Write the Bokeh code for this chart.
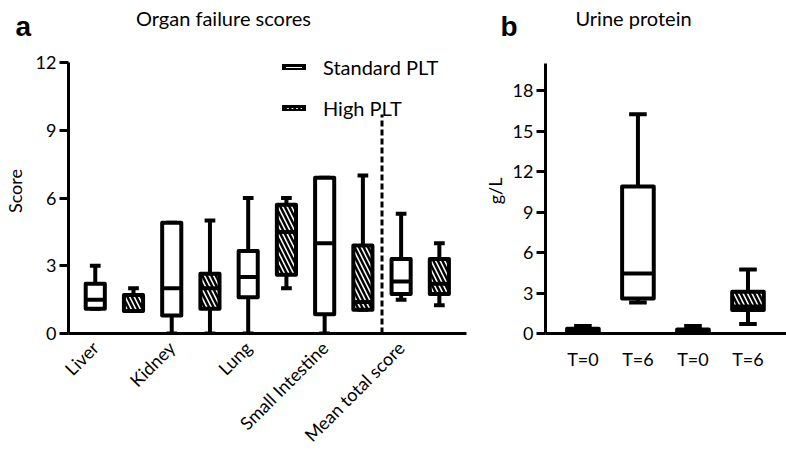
from math import pi
from bokeh.plotting import figure
from bokeh.models import Legend, LegendItem, FixedTicker, Range1d
from bokeh.core.properties import value
from bokeh.layouts import row, column
from bokeh.embed import file_html
from bokeh.resources import INLINE

# ---------------- data: panel a (organ failure scores) ----------------
organs = ["Liver", "Kidney", "Lung", "Small Intestine", "Mean total score"]
std_min = [1.1, 0.0, 0.0, 0.0, 1.5]
std_q1 = [1.1, 0.8, 1.6, 0.85, 1.75]
std_med = [1.5, 2.0, 2.5, 4.0, 2.3]
std_q3 = [2.2, 4.9, 3.65, 6.9, 3.3]
std_max = [3.0, 4.9, 6.0, 6.9, 5.3]

high_min = [1.0, 0.0, 2.0, 1.05, 1.25]
high_q1 = [1.0, 1.1, 2.6, 1.05, 1.75]
high_med = [1.0, 2.0, 4.5, 1.4, 2.2]
high_q3 = [1.7, 2.65, 5.7, 3.9, 3.3]
high_max = [2.0, 5.0, 6.0, 7.0, 4.0]
sep_top = 9.7
score_ticks = [0, 3, 6, 9, 12]
score_max = 12

# ---------------- data: panel b (urine protein) ----------------
times = ["T=0", "T=6", "T=0", "T=6"]
groups = ["Standard PLT", "Standard PLT", "High PLT", "High PLT"]
u_min = [0.05, 2.3, 0.0, 0.7]
u_q1 = [0.1, 2.6, 0.05, 1.75]
u_med = [0.2, 4.45, 0.15, 2.0]
u_q3 = [0.35, 10.9, 0.3, 3.1]
u_max = [0.55, 16.25, 0.55, 4.75]
urine_ticks = [0, 3, 6, 9, 12, 15, 18]
urine_max = 20

# ---------------- texts ----------------
panel_letters = ["a", "b"]
panel_titles = ["Organ failure scores", "Urine protein"]

FONT = "Lato"
LW = 4
HATCH = dict(hatch_pattern="\\", hatch_color="black", hatch_scale=9, hatch_weight=2.5)


def draw_boxes(p, xs, mins, q1, med, q3, mx, w, capw, hatch):
    p.segment(x0=xs, y0=q3, x1=xs, y1=mx, line_width=LW, line_color="black")
    p.segment(x0=xs, y0=q1, x1=xs, y1=mins, line_width=LW, line_color="black")
    p.segment(x0=[x - capw / 2 for x in xs], y0=mx, x1=[x + capw / 2 for x in xs], y1=mx,
              line_width=LW, line_color="black")
    p.segment(x0=[x - capw / 2 for x in xs], y0=mins, x1=[x + capw / 2 for x in xs], y1=mins,
              line_width=LW, line_color="black")
    kw = dict(HATCH) if hatch else {}
    r = p.vbar(x=xs, bottom=q1, top=q3, width=w, fill_color="white", line_color="black",
               line_width=LW, line_join="round", **kw)
    p.segment(x0=[x - w / 2 for x in xs], y0=med, x1=[x + w / 2 for x in xs], y1=med,
              line_width=LW, line_color="black")
    return r


def style(p, ticks, top, label, label_standoff):
    p.grid.visible = False
    p.outline_line_color = None
    p.background_fill_color = "white"
    p.border_fill_color = "white"
    for ax in (p.xaxis[0], p.yaxis[0]):
        ax.axis_line_width = 3
        ax.axis_line_color = "black"
        ax.major_label_text_font = FONT
        ax.major_label_text_color = "black"
        ax.minor_tick_line_color = None
    p.yaxis.ticker = FixedTicker(ticks=ticks)
    p.yaxis.bounds = (0, top)
    p.yaxis.major_tick_line_width = 3
    p.yaxis.major_tick_out = 9
    p.yaxis.major_tick_in = 0
    p.yaxis.major_label_standoff = 3
    p.yaxis.major_label_text_font_size = "18px"
    p.yaxis.axis_label = label
    p.yaxis.axis_label_text_font = FONT
    p.yaxis.axis_label_text_font_size = "18px"
    p.yaxis.axis_label_text_font_style = "normal"
    p.yaxis.axis_label_text_color = "black"
    p.yaxis.axis_label_standoff = label_standoff
    p.xaxis.major_tick_line_color = None
    p.xaxis.major_tick_out = 0
    p.xaxis.major_tick_in = 0


H_HEAD = 48
H_MAIN = 457 - H_HEAD
BOTTOM = 124
FRAME_H = H_MAIN - BOTTOM
PX_A = 271.0      # pixels spanned by 0..12 on panel a
PX_B = 269.7      # pixels spanned by 0..20 on panel b

# ---------------- header with panel letters and titles ----------------
head = figure(width=786, height=H_HEAD, x_range=Range1d(0, 786), y_range=Range1d(H_HEAD, 0),
              output_backend="svg", toolbar_location=None, x_axis_type=None, y_axis_type=None,
              min_border=0)
head.grid.visible = False
head.outline_line_color = None
head.text(x=[15, 500], y=[26, 26], text=panel_letters, text_font=value("Liberation Sans"),
          text_font_style="bold", text_font_size="28px", text_baseline="alphabetic",
          text_align="left", text_color="black")
head.text(x=[223, 633], y=[17, 17], text=panel_titles, text_font=value(FONT),
          text_font_size="20px", text_baseline="middle", text_align="center",
          text_color="black")

# ---------------- panel a ----------------
pa_top = score_max * FRAME_H / PX_A
pa = figure(width=480, height=H_MAIN, x_range=Range1d(-0.7, 9.71), y_range=Range1d(0, pa_top),
            output_backend="svg", toolbar_location=None,
            min_border_left=57, min_border_right=14, min_border_top=0, min_border_bottom=BOTTOM)
style(pa, score_ticks, score_max, "Score", 7)
xs_std = [2 * i for i in range(len(organs))]
xs_high = [2 * i + 1 for i in range(len(organs))]
r_std = draw_boxes(pa, xs_std, std_min, std_q1, std_med, std_q3, std_max, 0.5, 0.28, False)
r_high = draw_boxes(pa, xs_high, high_min, high_q1, high_med, high_q3, high_max, 0.5, 0.28, True)
sep_x = xs_std[-1] - 0.5
pa.segment(x0=[sep_x], y0=[0], x1=[sep_x], y1=[sep_top], line_width=3, line_color="black",
           line_dash="6 3")
pa.xaxis.ticker = FixedTicker(ticks=xs_std)
pa.xaxis.major_label_overrides = {x: name for x, name in zip(xs_std, organs)}
pa.xaxis.major_label_orientation = pi / 4
pa.xaxis.major_label_standoff = 11
pa.xaxis.major_label_text_font_size = "18px"

legend = Legend(items=[LegendItem(label="Standard PLT", renderers=[r_std]),
                       LegendItem(label="High PLT", renderers=[r_high])],
                location=(213, 213), glyph_width=25, glyph_height=6,
                label_text_font=FONT, label_text_font_size="20px", label_standoff=17,
                label_text_color="black",
                padding=0, margin=0, spacing=17, border_line_alpha=0,
                background_fill_alpha=0)
pa.add_layout(legend)

# ---------------- panel b ----------------
pb_top = urine_max * FRAME_H / PX_B
pb = figure(width=306, height=H_MAIN, x_range=Range1d(-0.68, 3.70), y_range=Range1d(0, pb_top),
            output_backend="svg", toolbar_location=None,
            min_border_left=62, min_border_right=0, min_border_top=0, min_border_bottom=BOTTOM)
style(pb, urine_ticks, urine_max, "g/L", 4)
xs_b = list(range(len(times)))
idx_std = [i for i, g in enumerate(groups) if g == "Standard PLT"]
idx_high = [i for i, g in enumerate(groups) if g == "High PLT"]
for idx, hatch in ((idx_std, False), (idx_high, True)):
    draw_boxes(pb, [xs_b[i] for i in idx], [u_min[i] for i in idx], [u_q1[i] for i in idx],
               [u_med[i] for i in idx], [u_q3[i] for i in idx], [u_max[i] for i in idx],
               0.575, 0.32, hatch)
pb.xaxis.ticker = FixedTicker(ticks=xs_b)
pb.xaxis.major_label_overrides = {x: t for x, t in zip(xs_b, times)}
pb.xaxis.major_label_standoff = 14
pb.xaxis.major_label_text_font_size = "18px"

layout = column(head, row(pa, pb))
open("out.html", "w").write(file_html(layout, INLINE))
